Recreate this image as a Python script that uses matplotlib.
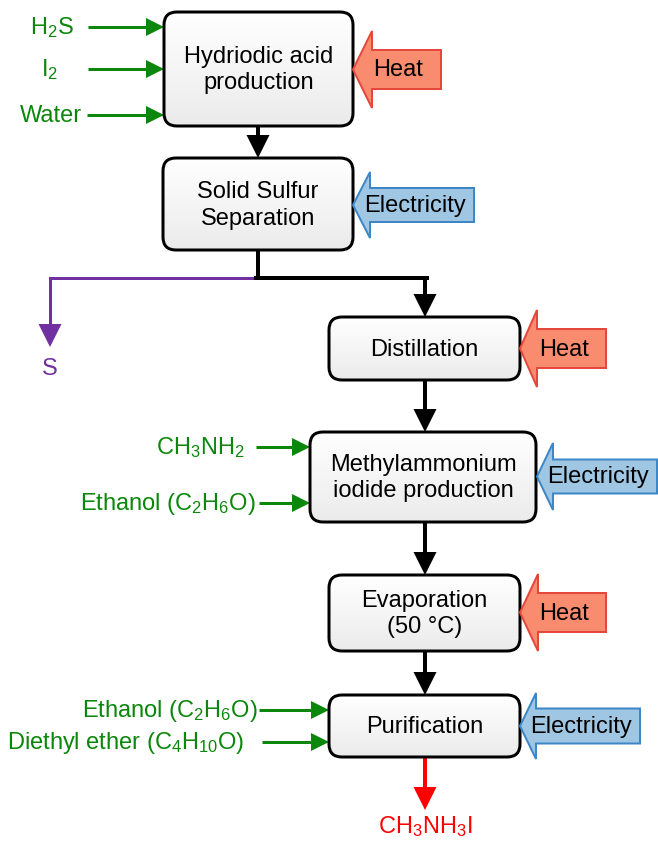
import numpy as np
import matplotlib.pyplot as plt
from matplotlib.patches import FancyBboxPatch, Polygon
from matplotlib.colors import LinearSegmentedColormap

plt.rcParams['font.family'] = ['Liberation Sans', 'DejaVu Sans']
plt.rcParams['mathtext.fontset'] = 'custom'
plt.rcParams['mathtext.rm'] = 'Liberation Sans'
plt.rcParams['mathtext.it'] = 'Liberation Sans:italic'
plt.rcParams['mathtext.bf'] = 'Liberation Sans:bold'

# process content
steps = [["Hydriodic acid", "production"],
         ["Solid Sulfur", "Separation"],
         ["Distillation"],
         ["Methylammonium", "iodide production"],
         ["Evaporation", "(50 °C)"],
         ["Purification"]]
energy = ["Heat", "Electricity", "Heat", "Electricity", "Heat", "Electricity"]
inputs = ["H$_2$S", "I$_2$", "Water", "CH$_3$NH$_2$", "Ethanol (C$_2$H$_6$O)",
          "Ethanol (C$_2$H$_6$O)", "Diethyl ether (C$_4$H$_{10}$O)"]
input_step = [0, 0, 0, 3, 3, 5, 5]
byproduct = "S"
product = "CH$_3$NH$_3$I"

# layout in pixels (x0, x1, y0, y1), y downwards
boxes = [(164, 353, 12, 126), (163, 353, 158, 250), (329, 520, 317, 380),
         (310, 536, 432, 522), (329, 520, 575, 651), (329, 520, 695, 757)]
# energy arrow: tip x, head base x, right x, centre y, head half h, body half h
energy_geom = [(353, 372, 441, 69.5, 38.5, 19.5), (353, 370, 474, 205, 33, 17),
               (520, 537, 606, 348.5, 38.5, 19.5), (537, 553, 657, 476.5, 33.5, 17),
               (520, 538, 606, 612.5, 38.5, 19.5), (520, 536, 640, 726, 33, 17.5)]
# input arrows: text x, text align, y, arrow start x
input_geom = [(52, 'center', 27, 88), (50, 'center', 69, 88), (51, 'center', 115, 87),
              (245, 'right', 447, 256), (256, 'right', 503, 259),
              (258, 'right', 710, 259), (244, 'right', 742, 262)]

GREEN = '#0b870b'
PURPLE = '#7030a0'
RED = '#ff0000'
HEAT = ('#f98b6e', '#e5473c')
ELEC = ('#9fc7e3', '#3d87c6')
PX = 0.72  # points per pixel at dpi 100
FS = 17

fig = plt.figure(figsize=(6.58, 8.42), dpi=100)
ax = fig.add_axes([0, 0, 1, 1])
ax.set_xlim(0, 658)
ax.set_ylim(842, 0)
ax.axis('off')


def arrow(x0, y0, x1, y1, color, lw, hw, hl):
    d = np.array([x1 - x0, y1 - y0], float)
    L = np.hypot(*d)
    u = d / L
    n = np.array([-u[1], u[0]])
    base = np.array([x1, y1]) - u * hl
    ax.plot([x0, base[0] + u[0]], [y0, base[1] + u[1]], color=color,
            lw=lw * PX, solid_capstyle='butt', zorder=2)
    pts = [(x1, y1), tuple(base + n * hw / 2), tuple(base - n * hw / 2)]
    ax.add_patch(Polygon(pts, closed=True, fc=color, ec='none', zorder=3))


grad = np.linspace(0, 1, 100).reshape(-1, 1)
cmap = LinearSegmentedColormap.from_list('g', ['#ffffff', '#ebebeb'])
for (x0, x1, y0, y1), lines in zip(boxes, steps):
    patch = FancyBboxPatch((x0, y0), x1 - x0, y1 - y0,
                           boxstyle='round,pad=0,rounding_size=13',
                           fc='none', ec='black', lw=3 * PX, zorder=5)
    ax.add_patch(patch)
    im = ax.imshow(grad, cmap=cmap, extent=(x0, x1, y1, y0),
                   aspect='auto', zorder=4)
    im.set_clip_path(patch)
    yc = (y0 + y1) / 2
    n = len(lines)
    for i, t in enumerate(lines):
        yb = yc + (i - (n - 1) / 2) * 27 + 7
        ax.text((x0 + x1) / 2, yb, t, ha='center', va='baseline',
                fontsize=FS, color='black', zorder=6)

# energy block arrows
for lab, (tip, hb, xr, yc, hh, bh) in zip(energy, energy_geom):
    fc, ec = HEAT if lab == "Heat" else ELEC
    pts = [(tip, yc), (hb, yc - hh), (hb, yc - bh), (xr, yc - bh),
           (xr, yc + bh), (hb, yc + bh), (hb, yc + hh)]
    ax.add_patch(Polygon(pts, closed=True, fc=fc, ec=ec, lw=2 * PX, zorder=5))
    ax.text((tip + xr) / 2 + 1, yc + 7, lab, ha='center', va='baseline',
            fontsize=FS, color='black', zorder=6)

# raw material inputs
for lab, st, (tx, ha, y, xs) in zip(inputs, input_step, input_geom):
    arrow(xs, y, boxes[st][0], y, GREEN, 3, 18, 18)
    ax.text(tx, y + 7, lab, ha=ha, va='baseline', fontsize=FS, color=GREEN, zorder=6)

# main flow
cx0 = 258
cx = 425
arrow(cx0, boxes[0][3], cx0, boxes[1][2], 'black', 4, 23, 23)
ax.plot([cx0, cx0], [boxes[1][3], 278], color='black', lw=4 * PX, zorder=2)
ax.plot([cx0 - 2, 50], [278, 278], color=PURPLE, lw=3 * PX, zorder=2,
        solid_capstyle='projecting')
arrow(50, 278, 50, 347, PURPLE, 3, 23, 23)
ax.plot([cx0 - 2, cx + 2], [278, 278], color='black', lw=4 * PX, zorder=2,
        solid_capstyle='projecting')
arrow(cx, 278, cx, boxes[2][2], 'black', 4, 23, 23)
for a, b in [(2, 3), (3, 4), (4, 5)]:
    arrow(cx, boxes[a][3], cx, boxes[b][2], 'black', 4, 23, 23)
arrow(cx, boxes[5][3], cx, 810, RED, 4, 23, 23)

ax.text(50, 375, byproduct, ha='center', va='baseline', fontsize=FS, color=PURPLE)
ax.text(cx, 833, product, ha='center', va='baseline', fontsize=FS, color=RED)

fig.savefig('out.png', dpi=100)
